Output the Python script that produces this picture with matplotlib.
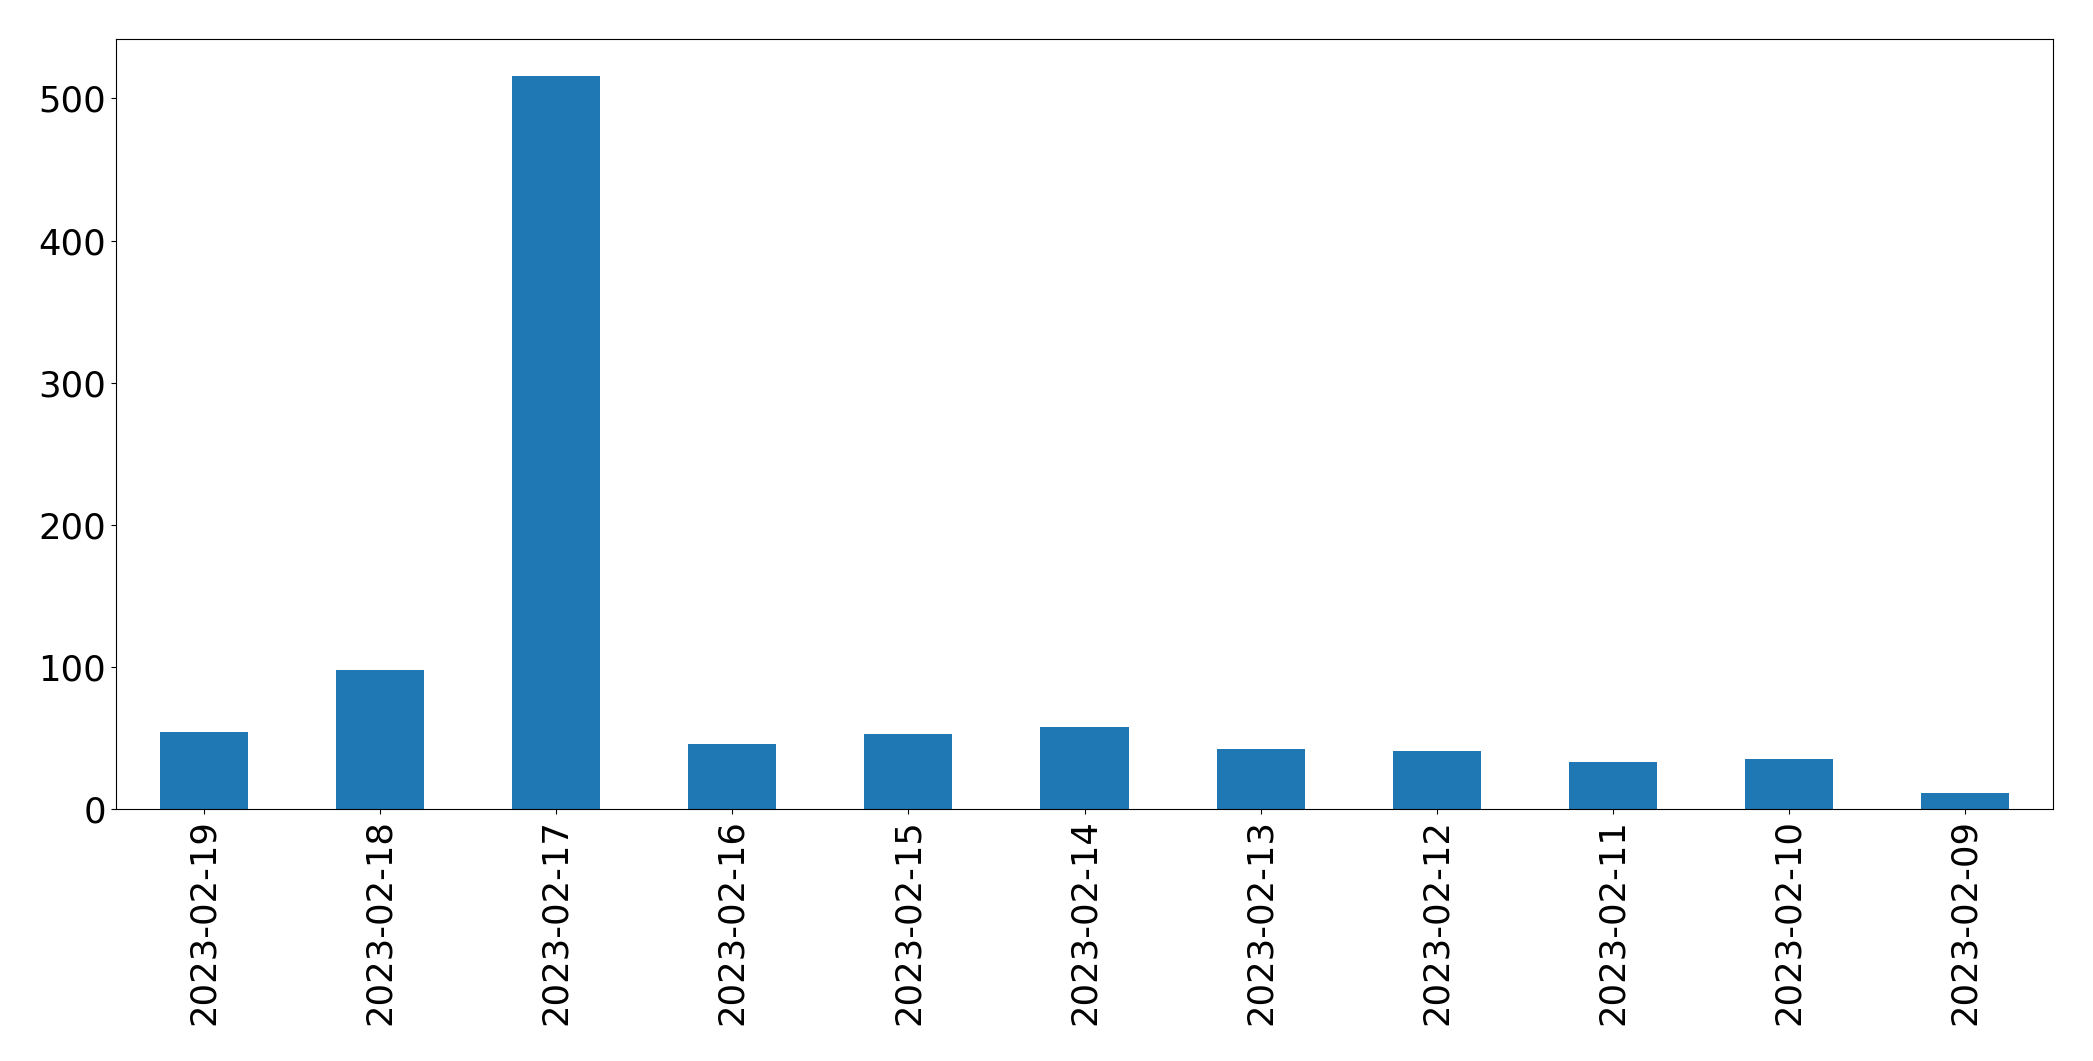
import matplotlib
matplotlib.use("Agg")
import matplotlib.pyplot as plt
import numpy as np

dates = ["2023-02-19", "2023-02-18", "2023-02-17", "2023-02-16", "2023-02-15",
         "2023-02-14", "2023-02-13", "2023-02-12", "2023-02-11", "2023-02-10",
         "2023-02-09"]
counts = [54, 98, 516, 46, 53, 58, 42, 41, 33, 35, 11]

fig, ax = plt.subplots(figsize=(20.93, 10.61), dpi=100)
fig.subplots_adjust(left=116 / 2093, right=2053 / 2093, top=1 - 39 / 1061, bottom=1 - 809 / 1061)

x = np.arange(len(dates))
ax.bar(x, counts, width=0.5, color="#1f77b4")
ax.set_xlim(-0.5, len(dates) - 0.5)
ax.set_xticks(x)
ax.set_xticklabels(dates, rotation=90)
ax.tick_params(axis="both", labelsize=25.5)

fig.savefig("out.png", dpi=100)
